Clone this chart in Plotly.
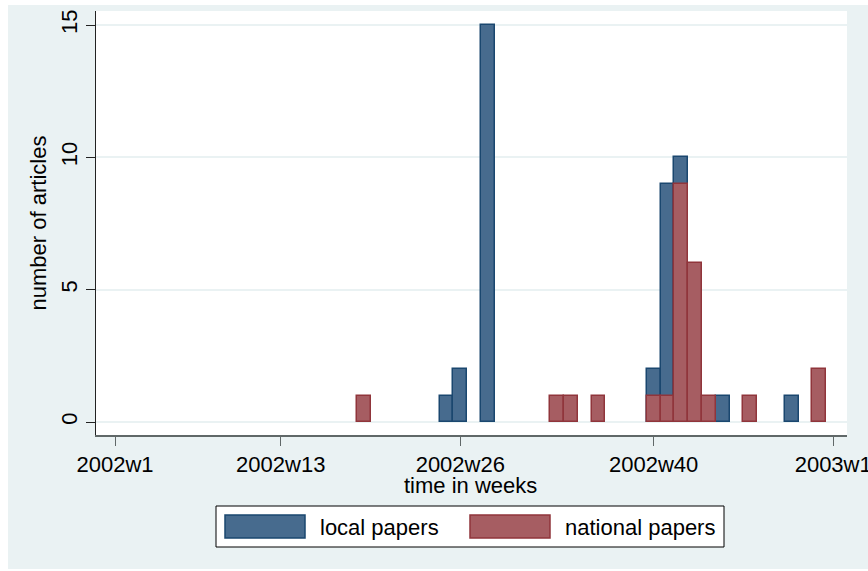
import plotly.graph_objects as go

# Weekly article counts (x = week number of 2002; 53 = 2003w1)
local_weeks = [25, 26, 28, 40, 41, 42, 45, 50]
local_counts = [1, 2, 15, 2, 9, 10, 1, 1]
national_weeks = [19, 33, 34, 36, 40, 41, 42, 43, 44, 47, 52]
national_counts = [1, 1, 1, 1, 1, 1, 9, 6, 1, 1, 2]

tick_weeks = [1, 13, 26, 40, 53]
tick_labels = ["2002w1", "2002w13", "2002w26", "2002w40", "2003w1"]
y_ticks = [0, 5, 10, 15]

series_names = ["local papers", "national papers"]
fill_colors = ["#476B8E", "#A65D62"]
edge_colors = ["#1A476F", "#90353B"]

W, H = 868, 571
ML, MR, MT, MB = 96, 21, 11, 136
PW, PH = W - ML - MR, H - MT - MB

FONT = "Liberation Sans, Arial, Helvetica, sans-serif"
BG = "#EAF2F3"


def px(x):
    return (x - ML) / PW


def py(y):
    return (H - MB - y) / PH


fig = go.Figure()
for wk, cnt, name, fc, ec in [
    (local_weeks, local_counts, series_names[0], fill_colors[0], edge_colors[0]),
    (national_weeks, national_counts, series_names[1], fill_colors[1], edge_colors[1]),
]:
    fig.add_trace(go.Bar(
        x=wk, y=cnt, width=1, name=name,
        marker=dict(color=fc, line=dict(color=ec, width=1.5)),
        showlegend=False,
    ))

shapes = [
    # outer graph region
    dict(type="rect", xref="paper", yref="paper", layer="below",
         x0=px(8), x1=px(W), y0=py(569), y1=py(5),
         fillcolor=BG, line=dict(width=0)),
    # white plot region
    dict(type="rect", xref="paper", yref="paper", layer="below",
         x0=0, x1=1, y0=0, y1=1, fillcolor="white", line=dict(width=0)),
    # legend box
    dict(type="rect", xref="paper", yref="paper",
         x0=px(216), x1=px(724), y0=py(547), y1=py(506),
         fillcolor="white", line=dict(color="black", width=1)),
]
annotations = []
legend_items = [(225, 318), (470, 563)]
for (sx, tx), name, fc, ec in zip(legend_items, series_names, fill_colors, edge_colors):
    shapes.append(dict(type="rect", xref="paper", yref="paper",
                       x0=px(sx), x1=px(sx + 80), y0=py(538), y1=py(515),
                       fillcolor=fc, line=dict(color=ec, width=1.5)))
    annotations.append(dict(xref="paper", yref="paper", x=px(tx), y=py(527),
                            xanchor="left", yanchor="middle", showarrow=False,
                            text=name, font=dict(family=FONT, size=22, color="black")))

annotations.append(dict(xref="paper", yref="paper", x=px(470), y=py(485),
                        xanchor="center", yanchor="middle", showarrow=False,
                        text="time in weeks", font=dict(family=FONT, size=22, color="black")))

fig.update_layout(
    width=W, height=H,
    margin=dict(l=ML, r=MR, t=MT, b=MB, pad=0),
    paper_bgcolor="white", plot_bgcolor="rgba(0,0,0,0)",
    barmode="overlay", bargap=0,
    font=dict(family=FONT, size=22, color="black"),
    shapes=shapes, annotations=annotations,
    xaxis=dict(
        range=[-0.38, 54.0], tickvals=tick_weeks, ticktext=tick_labels,
        ticks="outside", ticklen=9, tickwidth=1, tickcolor="#606868",
        showline=True, linecolor="#606868", linewidth=1.5,
        showgrid=False, zeroline=False, ticklabeloverflow="allow",
        automargin=False,
        tickfont=dict(family=FONT, size=22, color="black"),
    ),
    yaxis=dict(
        range=[-0.49, 15.53], tickvals=y_ticks, tickangle=-90,
        ticks="outside", ticklen=9, tickwidth=1, tickcolor="#222222",
        showline=True, linecolor="#222222", linewidth=1,
        showgrid=True, gridcolor=BG, gridwidth=1.5, zeroline=False,
        automargin=False,
        tickfont=dict(family=FONT, size=22, color="black"),
        title=dict(text="number of articles", standoff=4,
                   font=dict(family=FONT, size=22, color="black")),
    ),
)

fig.write_html("out.html")
